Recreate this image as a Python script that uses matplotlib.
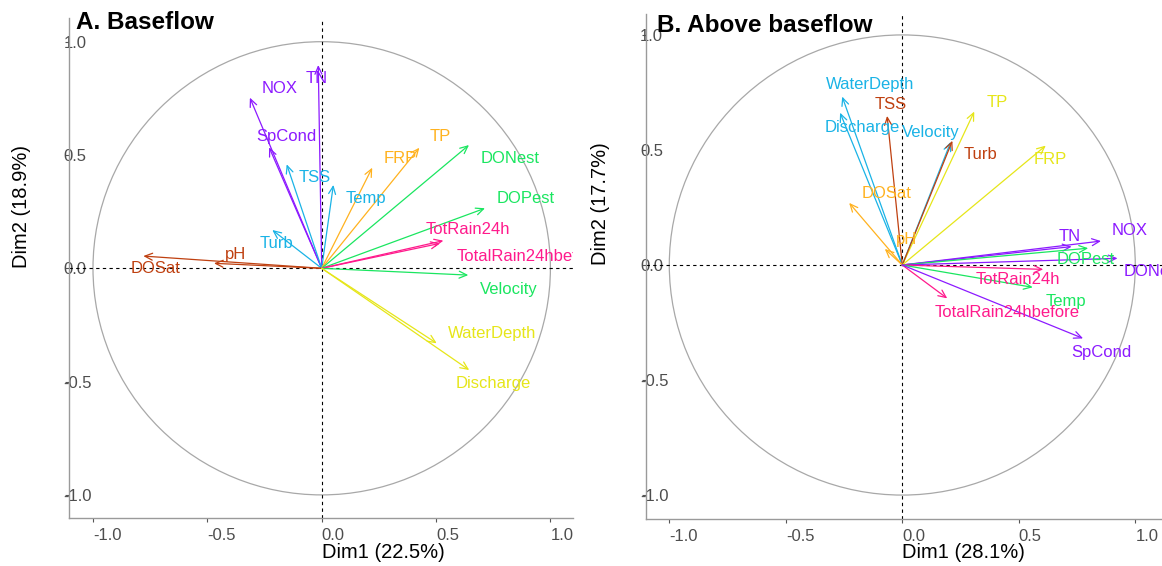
import matplotlib
matplotlib.use("Agg")
import matplotlib.pyplot as plt
import matplotlib.patches as mpatches
import matplotlib.transforms as mtransforms

plt.rcParams["font.family"] = ["Liberation Sans", "DejaVu Sans"]
plt.rcParams["axes.unicode_minus"] = False

# ---- Panel A: baseflow loadings -------------------------------------------
vars_a = ["TN", "NOX", "SpCond", "TSS", "Temp", "Turb", "pH", "DOSat", "FRP", "TP",
          "DONest", "DOPest", "TotRain24h", "TotalRain24hbefore", "Velocity",
          "WaterDepth", "Discharge"]
dim1_a = [-0.015, -0.314, -0.230, -0.153, 0.051, -0.216, -0.471, -0.780, 0.221, 0.427,
          0.644, 0.714, 0.532, 0.517, 0.641, 0.503, 0.645]
dim2_a = [0.897, 0.753, 0.534, 0.459, 0.368, 0.169, 0.022, 0.054, 0.444, 0.532,
          0.544, 0.265, 0.122, 0.110, -0.030, -0.331, -0.449]
group_a = ["purple", "purple", "purple", "blue", "blue", "blue", "brown", "brown",
           "orange", "orange", "green", "green", "pink", "pink", "green",
           "yellow", "yellow"]
pct_a = (22.5, 18.9)

# ---- Panel B: above-baseflow loadings -------------------------------------
vars_b = ["WaterDepth", "Discharge", "TSS", "Velocity", "TP", "Turb", "FRP", "DOSat",
          "pH", "TN", "NOX", "DOPest", "DONest", "TotRain24h", "Temp",
          "TotalRain24hbefore", "SpCond"]
dim1_b = [-0.258, -0.267, -0.065, 0.208, 0.309, 0.215, 0.616, -0.228,
          -0.075, 0.727, 0.853, 0.798, 0.924, 0.605, 0.560, 0.193, 0.776]
dim2_b = [0.732, 0.662, 0.648, 0.535, 0.667, 0.540, 0.519, 0.270,
          0.070, 0.080, 0.104, 0.073, 0.029, -0.019, -0.097, -0.145, -0.319]
group_b = ["blue", "blue", "brown", "blue", "yellow", "brown", "yellow", "orange",
           "orange", "purple", "purple", "green", "purple", "pink", "green",
           "pink", "purple"]
pct_b = (28.1, 17.7)

ticks = [-1.0, -0.5, 0.0, 0.5, 1.0]
tick_labels = ["-1.0", "-0.5", "0.0", "0.5", "1.0"]

palette = {
    "purple": "#8C1AFF",
    "blue": "#1AB3E6",
    "brown": "#BF4010",
    "orange": "#FFB21F",
    "green": "#1AE660",
    "pink": "#FF1A8C",
    "yellow": "#E6E619",
}

# label placement relative to each arrow tip (data units)
label_shift_a = {
    "TN": (-0.007, -0.059), "NOX": (0.132, 0.041), "SpCond": (0.074, 0.047),
    "TSS": (0.121, -0.057), "Temp": (0.141, -0.062), "Turb": (0.019, -0.059),
    "pH": (0.096, 0.041), "DOSat": (0.055, -0.054), "FRP": (0.121, 0.041),
    "TP": (0.093, 0.049), "DONest": (0.179, -0.059), "DOPest": (0.179, 0.041),
    "TotRain24h": (0.105, 0.050), "TotalRain24hbefore": (0.389, -0.056),
    "Velocity": (0.179, -0.063), "WaterDepth": (0.243, 0.044),
    "Discharge": (0.105, -0.059),
}
label_shift_b = {
    "WaterDepth": (0.119, 0.051), "Discharge": (0.094, -0.063), "TSS": (0.015, 0.048),
    "Velocity": (-0.084, 0.040), "TP": (0.100, 0.040), "Turb": (0.119, -0.059),
    "FRP": (0.020, -0.060), "DOSat": (0.159, 0.042), "pH": (0.095, 0.042),
    "TN": (-0.010, 0.046), "NOX": (0.124, 0.048), "DOPest": (-0.011, -0.051),
    "DONest": (0.154, -0.058), "TotRain24h": (-0.107, -0.046),
    "Temp": (0.143, -0.062), "TotalRain24hbefore": (0.259, -0.061),
    "SpCond": (0.079, -0.061),
}

W, H = 1162, 566
fig = plt.figure(figsize=(W / 100, H / 100), dpi=100)
fig.patch.set_facecolor("white")


def px_box(left, top, right, bottom):
    return [left / W, 1 - bottom / H, (right - left) / W, (bottom - top) / H]


def draw_panel(ax, names, d1, d2, groups, shifts, pct, title, title_xy, ylab_x,
               xlim, ylim):
    ax.set_xlim(*xlim)
    ax.set_ylim(*ylim)
    for side in ("top", "right"):
        ax.spines[side].set_visible(False)
    for side in ("left", "bottom"):
        ax.spines[side].set_color("#9a9a9a")
        ax.spines[side].set_linewidth(1.0)

    ax.add_patch(mpatches.Circle((0, 0), 1.0, fill=False, edgecolor="#a8a8a8",
                                 linewidth=0.9, zorder=1))
    ax.axhline(0, color="black", linestyle=(0, (3, 3)), linewidth=0.8, zorder=2)
    ax.axvline(0, color="black", linestyle=(0, (3, 3)), linewidth=0.8, zorder=2)

    for name, x, y, g in zip(names, d1, d2, groups):
        col = palette[g]
        ax.annotate("", xy=(x, y), xytext=(0, 0),
                    arrowprops=dict(arrowstyle="->,head_length=0.55,head_width=0.25",
                                    color=col, linewidth=0.9,
                                    shrinkA=0, shrinkB=0),
                    zorder=3)
    for name, x, y, g in zip(names, d1, d2, groups):
        dx, dy = shifts[name]
        t = ax.text(x + dx, y + dy, name, color=palette[g], fontsize=12,
                    ha="center", va="center", zorder=4)
        t.set_clip_on(True)

    ax.set_xticks(ticks)
    ax.set_xticklabels(tick_labels, ha="left")
    ax.set_yticks(ticks)
    ax.set_yticklabels(tick_labels, ha="left")
    ax.tick_params(axis="x", length=2.7, width=0.8, color="#555555",
                   labelsize=12, labelcolor="#4D4D4D", pad=4.6)
    ax.tick_params(axis="y", length=2.7, width=0.8, color="#555555",
                   labelsize=12, labelcolor="#4D4D4D", pad=1.6)

    bx = mtransforms.blended_transform_factory(ax.transData, fig.transFigure)
    fig.text(0.0, 1 - 553 / H, f"Dim1 ({pct[0]}%)", transform=bx,
             ha="left", va="center", fontsize=14.5, color="black")
    by = mtransforms.blended_transform_factory(fig.transFigure, ax.transData)
    fig.text(ylab_x / W, 0.0, f"Dim2 ({pct[1]}%)", transform=by,
             ha="center", va="bottom", rotation=90, fontsize=14.5, color="black")
    fig.text(title_xy[0] / W, 1 - title_xy[1] / H, title, ha="left",
             va="baseline", fontsize=17.5, fontweight="bold", color="black",
             zorder=10)


ax_a = fig.add_axes(px_box(69.3, 18, 572.7, 517.7))
draw_panel(ax_a, vars_a, dim1_a, dim2_a, group_a, label_shift_a, pct_a,
           "A. Baseflow", (76, 29), 22, (-1.1036, 1.0975), (-1.1006, 1.1046))

ax_b = fig.add_axes(px_box(646, 14, 1286, 519))
draw_panel(ax_b, vars_b, dim1_b, dim2_b, group_b, label_shift_b, pct_b,
           "B. Above baseflow", (657, 32), 600, (-1.100, 1.647), (-1.104, 1.091))

fig.savefig("out.png", dpi=100, facecolor="white")
